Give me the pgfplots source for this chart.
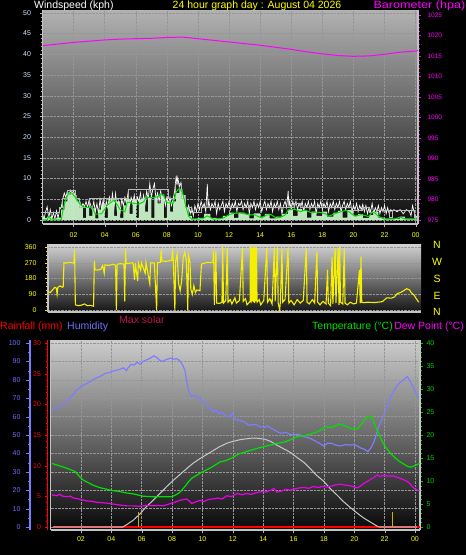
\documentclass[border=0pt]{standalone}
\usepackage{pgfplots}
\pgfplotsset{compat=1.18}
\usepackage{fontspec}
\setmainfont{Liberation Sans}

\definecolor{tickblue}{RGB}{205,230,255}
\definecolor{ylw}{RGB}{255,255,0}
\definecolor{mag}{RGB}{255,0,255}
\definecolor{humblue}{RGB}{125,125,255}
\definecolor{humlab}{RGB}{110,110,255}
\definecolor{tgreen}{RGB}{0,225,0}
\definecolor{tlab}{RGB}{0,210,0}
\definecolor{lgreen}{RGB}{200,242,200}
\definecolor{gustgray}{RGB}{185,185,185}
\definecolor{solar}{RGB}{200,200,200}
\definecolor{maxsol}{RGB}{190,25,70}
\definecolor{dirylw}{RGB}{245,240,0}
\definecolor{framec}{RGB}{195,195,195}
\definecolor{gridc}{RGB}{150,150,150}
\definecolor{uvbar}{RGB}{200,180,0}
\definecolor{dewc}{RGB}{235,0,235}

\pgfplotsset{
  every axis/.append style={
    scale only axis,
    /pgf/number format/assume math mode=true,
    /pgf/number format/1000 sep={},
    tick align=outside,
    major tick length=3pt,
    minor tick length=1.8pt,
    tick label style={font=\fontsize{7}{8}\selectfont},
    axis line style={draw=framec, line width=1.2pt},
    grid style={densely dotted, gridc, line width=0.4pt},
  },
}

\begin{document}
\begin{tikzpicture}
\path[use as bounding box] (0,0) rectangle (466pt,-555pt);
\fill[black] (0,0) rectangle (466pt,-555pt);

% ================= TOP PANEL: wind speed =================
\begin{axis}[
  at={(42.5pt,-10pt)}, anchor=north west,
  width=375.5pt, height=214pt,
  xmin=0, xmax=24.15, ymin=-0.97, ymax=50.7,
  axis x line*=bottom, axis y line*=left,
  xtick={2,4,...,24},
  xticklabels={02,04,06,08,10,12,14,16,18,20,22,00},
  x tick label style={text=ylw, yshift=-2pt},
  ytick={0,5,...,50},
  y tick label style={text=tickblue, xshift=-5pt},
  minor y tick num=4,
  tick style={gustgray},
  grid=major,
  axis background/.style={top color={rgb,255:red,178;green,178;blue,178}, bottom color={rgb,255:red,12;green,12;blue,12}},
]
% white gust line
\addplot[white, line width=0.7pt] coordinates {
(0.0,1.5)(0.1,0.2)(0.2,2.0)(0.3,3.2)(0.4,0.5)(0.5,2.5)(0.6,0.2)(0.7,1.8)(0.8,0.3)(0.9,2.2)(1.0,0.4)(1.1,2.5)(1.2,3.0)
(1.3,5.0)(1.4,6.5)(1.5,5.5)(1.6,7.0)(1.7,6.0)(1.8,7.2)(1.9,6.5)(2.0,7.0)(2.1,5.5)(2.2,5.0)(2.3,3.5)
(2.4,4.5)(2.5,3.0)(2.6,4.0)(2.7,3.2)(2.8,4.5)(2.9,3.0)(3.0,4.9)(3.1,3.5)(3.2,2.5)(3.3,4.5)(3.4,2.0)
(3.5,4.0)(3.6,1.5)(3.7,5.0)(3.8,2.5)(3.9,4.9)(4.0,2.0)(4.1,4.5)(4.2,3.0)(4.3,5.5)(4.4,3.5)(4.5,6.4)(4.6,3.0)(4.7,6.4)(4.8,2.5)(4.9,4.5)(5.0,2.0)(5.1,5.0)(5.2,3.5)(5.3,5.5)(5.4,4.0)
(5.5,6.5)(5.6,3.5)(5.7,5.5)(5.8,4.0)(5.9,6.0)(6.0,3.0)(6.1,5.5)(6.2,4.5)(6.3,6.5)(6.4,3.5)(6.5,6.0)(6.6,4.0)(6.7,7.0)(6.8,5.0)(6.9,8.8)(7.0,5.5)(7.1,7.5)(7.2,8.8)(7.3,5.0)(7.4,6.5)(7.5,4.5)(7.6,7.0)(7.7,5.0)(7.8,6.0)(7.9,3.5)(8.0,5.5)(8.1,4.0)(8.2,5.5)(8.3,3.5)(8.4,5.0)
(8.5,7.0)(8.6,10.7)(8.65,8.5)(8.7,10.2)(8.8,8.0)(8.9,9.0)(9.0,5.5)(9.1,4.0)(9.2,3.0)
(9.3,2.0)(9.4,3.5)(9.5,1.5)(9.6,3.0)(9.7,1.0)(9.8,3.5)(9.9,2.0)(10.0,4.0)
(10.1,2.5)(10.2,4.5)(10.3,3.0)(10.4,4.0)(10.5,2.0)(10.6,8.7)(10.65,3.0)(10.7,4.5)(10.8,2.5)(10.9,4.0)(11.0,3.0)(11.1,4.5)(11.2,1.5)(11.3,4.0)(11.4,2.5)(11.5,3.5)(11.6,4.5)(11.7,2.0)(11.8,4.0)(11.9,3.0)(12.0,4.5)(12.1,2.5)(12.2,4.0)(12.3,3.0)(12.4,4.5)(12.5,2.0)(12.6,4.0)(12.7,3.5)(12.8,4.5)(12.9,2.5)(13.0,4.0)(13.1,3.0)(13.2,4.5)(13.3,1.5)(13.4,4.0)(13.5,3.0)(13.6,4.5)(13.7,2.5)(13.8,4.0)(13.9,3.0)(14.0,4.5)(14.1,2.0)(14.2,3.5)(14.3,4.5)(14.4,2.5)(14.5,4.0)(14.6,3.0)(14.7,4.5)(14.8,2.0)(14.9,4.0)(15.0,3.0)(15.1,4.5)(15.2,2.5)(15.3,4.0)(15.4,1.5)(15.5,3.5)(15.6,4.5)(15.7,3.0)(15.8,7.0)(15.85,3.0)(15.9,4.5)(16.0,2.5)(16.1,4.5)(16.2,3.0)(16.3,4.5)(16.4,2.5)(16.5,4.0)(16.6,3.0)(16.7,4.5)(16.8,2.0)(16.9,4.0)(17.0,3.0)(17.1,4.5)(17.2,2.5)(17.3,4.0)(17.4,3.0)(17.5,4.5)(17.6,1.5)(17.7,4.0)(17.8,3.0)(17.9,4.5)(18.0,2.5)(18.1,4.0)(18.2,3.0)(18.3,4.5)(18.4,2.0)(18.5,4.0)(18.6,3.0)(18.7,4.5)(18.8,2.5)(18.9,4.0)(19.0,3.0)(19.1,4.5)(19.2,2.0)(19.3,3.5)(19.4,4.5)(19.5,2.5)(19.6,4.0)(19.7,3.0)(19.8,4.5)(19.9,2.0)(20.0,3.5)(20.1,2.5)(20.2,4.0)(20.3,2.0)(20.4,3.5)(20.5,2.5)(20.6,3.8)(20.7,2.0)(20.8,3.5)(20.9,1.5)(21.0,3.0)
(21.1,2.0)(21.2,4.0)(21.3,1.5)(21.4,3.0)(21.5,2.0)(21.6,3.5)(21.7,1.5)(21.8,3.0)(21.9,2.0)(22.0,3.5)(22.1,1.5)(22.2,3.0)(22.3,1.5)(22.4,2.5)
(22.5,2.0)(22.6,2.5)(22.8,2.0)(23.0,2.5)(23.2,1.5)(23.4,2.5)(23.6,2.0)(23.7,1.0)(23.8,3.5)(23.9,2.0)(24.0,0.5)(24.1,1.0)
};
% light green average-wind bars
\addplot[const plot, fill=lgreen, draw=none, fill opacity=0.95] coordinates {
(0,0.5)(0.3,0.8)(0.6,0.3)(0.9,0.6)(1.2,2.5)(1.4,4.5)(1.6,6.0)(1.8,6.5)(2.0,6.0)(2.2,4.5)(2.4,3.5)(2.6,0.5)(2.8,3.0)(3.0,1.0)(3.2,2.8)(3.4,0.4)(3.6,2.5)(3.8,4.0)(4.0,0.5)(4.2,4.5)(4.4,5.0)(4.6,1.0)(4.8,4.5)(5.0,0.5)(5.2,3.5)(5.4,5.0)(5.6,1.5)(5.8,5.0)(6.0,0.5)(6.2,5.0)(6.4,5.2)(6.6,2.0)(6.8,5.5)(7.0,0.5)(7.2,5.5)(7.4,4.0)(7.6,6.0)(7.8,0.5)(8.0,4.5)(8.2,2.0)(8.4,4.5)(8.6,6.5)(8.8,7.5)(9.0,6.0)(9.2,3.0)(9.4,1.0)(9.6,0.3)(10.0,0.5)(10.4,1.5)(10.8,0.5)(11.2,0.3)(11.6,1.0)(12.0,1.8)(12.3,0.5)(12.6,1.8)(13.0,1.5)(13.3,0.4)(13.6,1.6)(14.0,0.8)(14.3,1.5)(14.6,0.4)(15.0,0.8)(15.4,1.5)(15.8,2.5)(16.1,1.0)(16.4,2.6)(16.7,2.2)(17.0,0.6)(17.3,2.0)(17.6,1.0)(18.0,2.0)(18.3,0.8)(18.7,1.8)(19.0,2.2)(19.3,0.6)(19.6,2.4)(20.0,1.0)(20.3,1.4)(20.6,0.5)(21.0,1.2)(21.3,2.0)(21.6,0.6)(22.0,0.3)(23.0,0.8)(23.3,0.3)(24.0,0.3)(24.15,0.3)
} \closedcycle;
% gray step line
\addplot[const plot, gustgray, line width=1pt] coordinates {
(0,1.7)(1.1,3.1)(1.3,5.2)(1.6,7.1)(2.15,5.2)(2.4,3.1)(3.0,5.2)(4.6,5.2)(5.5,7.3)(8.1,5.2)(8.55,8.9)(8.95,5.2)(9.2,3.1)(9.6,1.9)(10.2,3.1)(13.0,3.1)(13.3,3.6)(14.0,3.1)(16.0,3.1)(16.2,4.0)(16.6,3.1)(19.6,3.1)(19.9,2.4)(20.6,3.1)(21.0,1.9)(21.5,2.4)(22.3,0.5)(22.5,2.4)(23.9,0.5)(24.15,0.5)
};
% green average line
\addplot[tgreen, line width=1pt] coordinates {
(0,0)(0.3,0)(0.4,0.9)(0.55,0)(1.2,0)(1.35,3)(1.55,5.5)(1.7,6.5)(1.9,6.5)(2.1,5.5)(2.3,4.3)(2.6,3.2)(3.0,3.0)(3.2,3.0)(3.4,1.4)(3.8,1.5)(4.2,3.7)(4.6,4.8)(4.8,3.7)(5.0,2.5)(5.3,2.0)(5.45,4.3)(5.8,4.1)(6.2,3.8)(6.5,4.4)(6.7,5.5)(7.1,5.4)(7.4,5.6)(7.6,6.3)(7.8,5.8)(8.0,4.2)(8.4,4.0)(8.6,6.8)(8.8,7.6)(9.0,6.8)(9.2,3.6)(9.4,0.9)(9.6,0.2)(10.0,0.2)(10.3,0.3)(10.6,1.0)(11.0,0.2)(11.4,0.3)(11.7,0.6)(12.0,1.3)(12.3,1.6)(12.7,1.7)(13.0,1.5)(13.3,1.2)(13.6,1.3)(13.9,0.8)(14.1,0.5)(14.4,1.2)(14.7,1.3)(15.0,0.5)(15.3,0.6)(15.6,1.2)(15.8,2.4)(16.2,2.6)(16.6,2.0)(16.9,2.4)(17.3,1.7)(17.6,1.9)(17.9,1.8)(18.2,1.5)(18.4,0.9)(18.8,1.5)(19.2,2.0)(19.5,2.3)(19.7,2.0)(20.1,0.9)(20.5,1.3)(20.8,1.0)(21.0,0.8)(21.2,2.0)(21.4,1.6)(21.6,0.9)(22.0,0.2)(22.6,0.2)(23.0,0.7)(23.2,0.4)(23.4,0.2)(24.0,0.2)(24.15,0.2)
};
\end{axis}

% barometer axis
\begin{axis}[
  at={(42.5pt,-10pt)}, anchor=north west,
  width=375.5pt, height=214pt,
  xmin=0, xmax=24.15, ymin=974.0, ymax=1026.2,
  axis x line=none, axis y line*=right,
  ytick={975,980,...,1025},
  y tick label style={text=mag, font=\fontsize{6.5}{7}\selectfont, xshift=3pt},
  minor y tick num=4,
  tick style={mag},
]
\addplot[mag, line width=1pt] coordinates {
(0,1017.5)(1,1017.9)(2,1018.3)(3,1018.6)(4,1018.9)(5,1019.1)(6,1019.2)(7,1019.3)(8,1019.5)(9,1019.6)(10,1019.2)(11,1018.8)(12,1018.4)(13,1018.0)(14,1017.6)(15,1017.1)(16,1016.6)(17,1016.0)(18,1015.5)(19,1015.1)(20,1014.9)(21,1015.0)(22,1015.4)(23,1015.9)(24,1016.2)(24.15,1016.3)
};
\end{axis}

% ================= MIDDLE PANEL: wind direction =================
\begin{axis}[
  at={(48pt,-244pt)}, anchor=north west,
  width=373pt, height=68pt,
  xmin=0, xmax=24.55, ymin=-11, ymax=377,
  axis x line*=bottom, axis y line*=left,
  xtick=\empty,
  ytick={0,90,180,270,360},
  y tick label style={text=ylw, xshift=-5pt},
  minor y tick num=3,
  tick style={dirylw},
  ymajorgrids,
  axis background/.style={top color={rgb,255:red,210;green,210;blue,210}, bottom color={rgb,255:red,20;green,20;blue,20}},
]
\addplot[dirylw, line width=1.1pt] coordinates {
(0,105)(0.15,100)(0.3,115)(0.45,130)(0.55,125)(0.6,90)(0.65,130)(0.8,138)(0.95,130)(1.0,133)(1.05,270)(1.2,268)(1.4,272)(1.6,270)(1.7,268)(1.75,345)(1.8,30)(2.0,25)(2.2,28)(2.4,35)(2.6,25)(2.8,27)(3.0,22)(3.05,280)(3.1,230)(3.3,228)(3.5,235)(3.6,255)(3.7,210)(3.75,258)(4.0,255)(4.3,262)(4.45,255)(4.5,0)(4.55,262)(4.8,265)(5.0,262)(5.05,50)(5.1,350)(5.15,265)(5.4,268)(5.6,270)(5.7,172)(5.75,268)(5.9,165)(5.95,270)(6.1,228)(6.15,270)(6.4,210)(6.45,272)(6.7,150)(6.75,270)(7.0,268)(7.15,0)(7.2,270)(7.4,272)(7.45,343)(7.5,280)(7.8,278)(8.0,282)(8.15,285)(8.2,350)(8.25,280)(8.35,0)(8.4,280)(8.5,320)(8.6,150)(8.7,110)(8.8,170)(8.9,300)(9.0,330)(9.1,290)(9.2,0)(9.25,310)(9.35,270)(9.4,120)(9.5,90)(9.6,140)(9.7,100)(9.8,115)(10.0,110)(10.1,262)(10.3,268)(10.5,272)(10.7,270)(10.85,275)(10.9,340)(10.95,30)(11.05,340)(11.1,40)(11.3,38)(11.45,45)(11.5,360)(11.55,40)(11.7,55)(11.8,355)(11.85,45)(12.0,60)(12.1,35)(12.3,70)(12.4,40)(12.6,55)(12.8,355)(12.85,50)(13.0,65)(13.1,30)(13.3,50)(13.32,360)(13.37,40)(13.4,360)(13.45,50)(13.48,355)(13.53,45)(13.56,360)(13.6,40)(13.64,358)(13.68,50)(13.72,355)(13.76,45)(13.9,60)(14.0,30)(14.2,55)(14.4,355)(14.45,45)(14.6,65)(14.75,35)(14.9,355)(14.95,50)(15.1,360)(15.15,40)(15.25,0)(15.3,55)(15.4,350)(15.45,45)(15.6,60)(15.8,355)(15.85,40)(16.0,55)(16.2,30)(16.4,60)(16.6,40)(16.8,55)(17.0,350)(17.05,45)(17.2,35)(17.4,60)(17.55,40)(17.7,335)(17.75,45)(17.9,30)(18.1,50)(18.3,35)(18.4,230)(18.45,40)(18.6,25)(18.7,305)(18.75,35)(18.9,355)(18.95,40)(19.1,350)(19.15,30)(19.2,360)(19.25,45)(19.4,35)(19.5,350)(19.55,40)(19.7,30)(19.9,45)(20.1,35)(20.3,40)(20.5,228)(20.55,40)(20.6,305)(20.65,45)(20.8,42)(21.0,45)(21.5,43)(22.0,48)(22.3,70)(22.6,68)(22.8,75)(23.0,95)(23.2,100)(23.4,110)(23.6,122)(23.8,115)(23.9,100)(24.1,85)(24.2,70)(24.4,45)
};
\end{axis}

% ================= BOTTOM PANEL =================
% humidity (main, with background and grid)
\begin{axis}[
  at={(50.6pt,-340pt)}, anchor=north west,
  width=369.4pt, height=190pt,
  xmin=0, xmax=24.33, ymin=-1.63, ymax=101.63,
  axis x line*=bottom, axis y line*=left,
  xtick={2,4,...,24},
  xticklabels={02,04,06,08,10,12,14,16,18,20,22,00},
  x tick label style={text=ylw},
  ytick={0,10,...,100}, yticklabels={},
  major y tick style={draw=none},
  tick style={gustgray},
  grid=major,
  axis background/.style={top color={rgb,255:red,205;green,205;blue,205}, bottom color={rgb,255:red,8;green,8;blue,8}},
]
\addplot[humblue, line width=1.2pt] coordinates {
(0.1,63)(0.3,64.5)(0.5,65)(0.7,66.5)(0.9,67)(1.1,68.5)(1.3,70.5)(1.5,72)(1.7,74.5)(1.9,75.5)(2.1,77)(2.4,78)(2.7,79.5)(3.0,81)(3.3,82)(3.6,83.5)(3.9,84)(4.2,85)(4.5,85.5)(4.8,86.5)(5.0,85)(5.1,86.5)(5.3,88.4)(5.5,88)(5.7,89.5)(5.9,88.5)(6.1,90)(6.3,90.8)(6.5,91.5)(6.8,93)(7.0,92)(7.2,90.5)(7.4,90)(7.6,91)(7.9,91.7)(8.1,91.2)(8.3,91.5)(8.5,90.5)(8.7,88)(8.85,85)(8.95,80)(9.07,74.5)(9.2,72)(9.3,70.8)(9.5,71.5)(9.7,70)(9.85,70.5)(10.0,68)(10.3,66.3)(10.5,64.5)(10.7,62.7)(10.9,63.5)(11.1,61.5)(11.3,62.5)(11.5,60.5)(11.8,60)(12.0,62)(12.1,59)(12.3,58.2)(12.5,57.9)(12.8,57)(13.0,55.5)(13.2,55.4)(13.5,55.8)(13.8,54.5)(14.1,54.2)(14.3,55)(14.5,53.8)(14.7,53)(15.0,51.5)(15.2,50.9)(15.5,51.5)(15.8,50.2)(16.0,50)(16.3,50.5)(16.7,49.1)(17.0,48.5)(17.3,47.3)(17.6,46)(18.0,44)(18.2,45.5)(18.5,45.5)(18.8,44.5)(19.1,44)(19.4,44.8)(19.7,44.5)(20.0,44.7)(20.2,44)(20.4,43)(20.6,42.5)(20.9,41)(21.1,43)(21.3,46.4)(21.45,50)(21.6,54.5)(21.8,58)(22.0,61.8)(22.2,66)(22.4,70.8)(22.6,74)(22.85,77.2)(23.1,79)(23.3,80.3)(23.5,81.7)(23.7,79)(23.9,75.5)(24.1,72)(24.3,69)
};
\end{axis}

% temperature axis (right)
\begin{axis}[
  at={(50.6pt,-340pt)}, anchor=north west,
  width=369.4pt, height=190pt,
  xmin=0, xmax=24.33, ymin=-0.65, ymax=40.65,
  axis x line=none, axis y line*=right,
  ytick={0,5,...,40},
  y tick label style={text=tlab},
  minor y tick num=4,
  tick style={tlab},
]
% rainfall at zero
\addplot[red, line width=2.4pt] coordinates {(0.18,0)(24.33,0)};
% max solar zero parts (translucent over rain)
\addplot[solar, line width=2.4pt, opacity=0.6] coordinates {(0.18,0)(4.75,0)};
\addplot[solar, line width=2.4pt, opacity=0.6] coordinates {(21.6,0)(24.1,0)};
% max solar curve
\addplot[solar, line width=1pt] coordinates {
(4.75,0)(5.0,0.5)(5.45,1.5)(5.9,2.9)(6.3,4.4)(6.75,5.8)(7.2,7.3)(7.65,8.8)(8.1,10.2)(8.55,11.5)(9.0,12.8)(9.4,13.9)(9.85,14.9)(10.3,15.8)(10.7,16.6)(11.1,17.4)(11.6,18.2)(12.0,18.6)(12.5,19.0)(13.2,19.3)(13.6,19.3)(14.1,19.1)(14.5,18.6)(14.9,17.8)(15.3,17.1)(15.8,16.2)(16.2,15.2)(16.7,14.0)(17.1,12.7)(17.5,11.3)(18.0,9.9)(18.4,8.4)(18.85,7.0)(19.3,5.5)(19.75,4.2)(20.2,3.0)(20.65,1.9)(21.1,1.0)(21.4,0.4)(21.6,0)
};
% small bars
\addplot[uvbar, ycomb, line width=1.4pt] coordinates {(5.8,3.3)(22.5,3.3)};
% dew point
\addplot[dewc, line width=1.2pt] coordinates {
(0.1,7.0)(0.4,6.8)(0.6,7.1)(0.8,6.7)(1.05,6.6)(1.3,6.7)(1.5,6.3)(1.7,6.2)(2.0,6.0)(2.4,5.65)(2.7,5.6)(3.0,5.4)(3.3,5.3)(3.7,5.2)(4.1,5.0)(4.5,4.8)(5.0,4.6)(5.4,4.6)(5.9,4.5)(6.3,4.7)(6.8,4.6)(7.1,4.7)(7.4,4.6)(7.7,4.9)(7.9,5.1)(8.2,5.4)(8.5,5.8)(8.8,6.0)(8.96,6.1)(9.15,5.6)(9.3,5.1)(9.5,5.4)(9.85,5.8)(10.1,5.5)(10.4,6.0)(10.7,6.1)(11.0,6.3)(11.3,6.1)(11.6,6.8)(11.9,6.6)(12.3,7.3)(12.6,7.0)(12.9,7.3)(13.2,7.1)(13.6,7.5)(13.9,7.7)(14.2,7.6)(14.5,8.0)(14.7,8.4)(14.9,7.6)(15.2,7.8)(15.5,8.2)(15.8,8.0)(16.1,8.3)(16.4,8.5)(16.7,8.6)(17.0,8.4)(17.3,8.8)(17.6,8.6)(17.9,8.8)(18.2,8.7)(18.5,8.9)(18.8,9.2)(19.1,9.3)(19.4,9.1)(19.7,9.0)(20.0,8.7)(20.2,8.5)(20.4,8.9)(20.6,9.4)(20.9,10.0)(21.1,10.4)(21.3,10.8)(21.5,11.3)(21.7,11.0)(21.9,11.2)(22.2,11.1)(22.6,11.1)(23.0,10.6)(23.3,10.2)(23.5,9.9)(23.7,9.3)(23.9,8.5)(24.1,8.1)(24.3,7.9)
};
% temperature
\addplot[tgreen, line width=1.2pt] coordinates {
(0.1,13.8)(0.5,13.4)(1.05,12.8)(1.6,12.1)(1.9,11)(2.15,10.2)(2.5,9.6)(2.8,9.1)(3.2,8.6)(3.7,8.2)(4.1,7.9)(4.57,7.7)(5.0,7.4)(5.45,7.2)(6.1,6.7)(6.6,6.6)(7.2,6.6)(7.97,6.6)(8.2,6.9)(8.5,7.5)(8.85,8.8)(9.1,9.9)(9.3,10.6)(9.6,11.2)(9.85,11.7)(10.2,12.3)(10.5,12.8)(10.9,13.6)(11.2,14.2)(11.5,14.4)(11.8,14.8)(12.1,15.3)(12.4,15.9)(12.9,16.4)(13.3,16.8)(13.6,17.1)(14.2,17.6)(14.6,17.9)(14.9,18.2)(15.3,18.4)(15.6,18.7)(15.9,19.1)(16.2,19.6)(16.6,19.8)(17.1,20.2)(17.5,20.6)(17.8,21.1)(18.1,21.8)(18.4,21.6)(18.6,21.7)(19.0,22.4)(19.3,22.1)(19.5,21.8)(19.9,21.3)(20.2,21.3)(20.5,22.5)(20.7,23.4)(20.9,24.1)(21.1,24.0)(21.2,23.5)(21.35,22.3)(21.5,21.1)(21.7,19.6)(21.9,18.2)(22.1,17.2)(22.4,16.0)(22.7,15.0)(23.0,14.2)(23.3,13.6)(23.5,13.2)(23.7,13.0)(23.9,13.2)(24.0,13.4)(24.3,13.8)
};
\end{axis}

% humidity scale (left, blue)
\begin{axis}[
  at={(30pt,-340pt)}, anchor=north west,
  width=1pt, height=190pt,
  xmin=0, xmax=1, ymin=-1.63, ymax=101.63,
  axis x line=none, axis y line*=left,
  axis line style={draw=humblue, line width=1.3pt},
  ytick={0,10,...,100},
  y tick label style={text=humlab, xshift=-2pt},
  minor y tick num=1,
  major tick length=4pt,
  tick style={humblue},
]
\addplot[draw=none] coordinates {(0,0)};
\end{axis}

% rain scale (left, red)
\begin{axis}[
  at={(47.5pt,-340pt)}, anchor=north west,
  width=1pt, height=190pt,
  xmin=0, xmax=1, ymin=-0.49, ymax=30.49,
  axis x line=none, axis y line*=left,
  axis line style={draw=red, line width=1.2pt},
  ytick={0,5,...,30},
  y tick label style={text=red},
  minor y tick num=4,
  tick style={red},
]
\addplot[draw=none] coordinates {(0,0)};
\end{axis}

% ================= TEXTS =================
\begin{scope}[every node/.style={inner sep=0pt, font=\fontsize{10.5}{12}\selectfont}]
\node[anchor=west, text=white] at (34pt,-5.5pt) {Windspeed (kph)};
\node[text=ylw] at (257pt,-5.5pt) {24 hour graph day : August 04 2026};
\node[anchor=east, text=mag, xscale=1.2] at (465.5pt,-5.5pt) {Barometer (hpa)};
\node[text=ylw] at (437pt,-245pt) {N};
\node[text=ylw] at (437pt,-262pt) {W};
\node[text=ylw] at (437pt,-279pt) {S};
\node[text=ylw] at (437pt,-296pt) {E};
\node[text=ylw] at (437pt,-312pt) {N};
\node[anchor=west, text=red] at (0pt,-327pt) {Rainfall (mm)};
\node[anchor=west, text=humlab] at (67pt,-327pt) {Humidity};
\node[anchor=west, text=maxsol] at (119pt,-320pt) {Max solar};
\node[anchor=east, text=tgreen] at (393pt,-327pt) {Temperature (°C)};
\node[anchor=east, text=mag] at (464pt,-327pt) {Dew Point (°C)};
\end{scope}
\end{tikzpicture}
\end{document}
